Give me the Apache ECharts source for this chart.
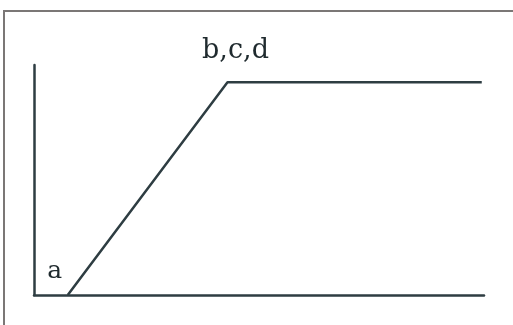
<!DOCTYPE html>
<html>
<head>
<meta charset="utf-8">
<script src="https://cdn.jsdelivr.net/npm/echarts@6/dist/echarts.min.js"></script>
<style>
  html, body { margin: 0; padding: 0; background: #fff; }
  #chart { width: 513px; height: 325px; }
</style>
</head>
<body>
<div id="chart"></div>
<script>
// curve points (x, y) in axis units 0..100
var xValues = [7.5, 43, 99.5];
var yValues = [0, 92.5, 92.5];
var pointLabels = ['a', 'b,c,d', ''];

var chart = echarts.init(document.getElementById('chart'));

var lineColor = '#2e3d42';
var labelOffsets = [[-13, -24], [8, -31], [0, 0]];
var labelSizes = [25, 27, 10];

var data = xValues.map(function (x, i) {
    return {
        value: [x, yValues[i]],
        name: pointLabels[i],
        label: {
            show: pointLabels[i] !== '',
            position: 'inside',
            offset: labelOffsets[i],
            fontSize: labelSizes[i],
            fontFamily: 'DejaVu Serif',
            color: '#1f2a2e',
            formatter: '{b}'
        }
    };
});

chart.setOption({
    animation: false,
    grid: { left: 34, right: 29, top: 65, bottom: 30 },
    xAxis: {
        type: 'value', min: 0, max: 100,
        axisLine: { show: true, lineStyle: { color: lineColor, width: 2.5 } },
        axisTick: { show: false }, axisLabel: { show: false }, splitLine: { show: false }
    },
    yAxis: {
        type: 'value', min: 0, max: 100,
        axisLine: { show: true, lineStyle: { color: lineColor, width: 2.5 } },
        axisTick: { show: false }, axisLabel: { show: false }, splitLine: { show: false }
    },
    graphic: [{
        type: 'rect',
        shape: { x: 4, y: 11, width: 600, height: 400 },
        style: { fill: 'none', stroke: '#7b7776', lineWidth: 2 }
    }],
    series: [{
        type: 'line',
        data: data,
        symbol: 'circle',
        symbolSize: 0,
        showSymbol: true,
        lineStyle: { color: lineColor, width: 2.5 }
    }]
});
</script>
</body>
</html>
